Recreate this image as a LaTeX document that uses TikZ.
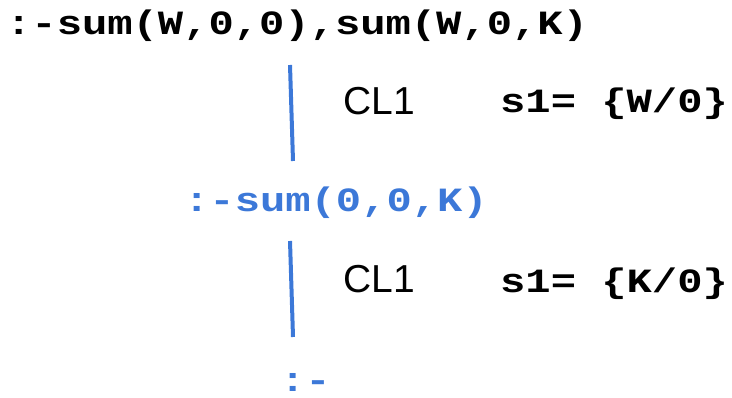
\documentclass[tikz,border=0pt]{standalone}
\usepackage{fontspec}
\setmainfont{Liberation Sans}
\newfontfamily\codefont[FakeStretch=1.24]{Liberation Mono}
\definecolor{goalblue}{HTML}{3C78D8}
\begin{document}
\begin{tikzpicture}[x=1pt,y=-1pt,
  code/.style={inner sep=0pt,anchor=base west,font=\codefont\bfseries\fontsize{34}{34}\selectfont},
  goal/.style={code,text=black},
  subgoal/.style={code,text=goalblue},
  rule/.style={inner sep=0pt,anchor=base west,font=\fontsize{39}{39}\selectfont},
  edge/.style={draw=goalblue,line width=4pt}]
\useasboundingbox (0,0) rectangle (732,398);
\node[goal] (g0) at (6,35) {:-sum(W,0,0),sum(W,0,K)};
\node[subgoal] (g1) at (184,212) {:-sum(0,0,K)};
\node[subgoal,text depth=0pt] (g2) at (280,392) {:-};
\node[rule] (r1) at (343,115) {CL1};
\node[code] (s1) at (500,113) {s1= \{W/0\}};
\node[rule] (r2) at (343,293) {CL1};
\node[code] (s2) at (500,293) {s1= \{K/0\}};
\coordinate (a1) at (290,65);
\coordinate (b1) at (293,161);
\coordinate (a2) at (290,241);
\coordinate (b2) at (293,337);
\draw[edge] (a1) -- (b1);
\draw[edge] (a2) -- (b2);
\end{tikzpicture}
\end{document}
